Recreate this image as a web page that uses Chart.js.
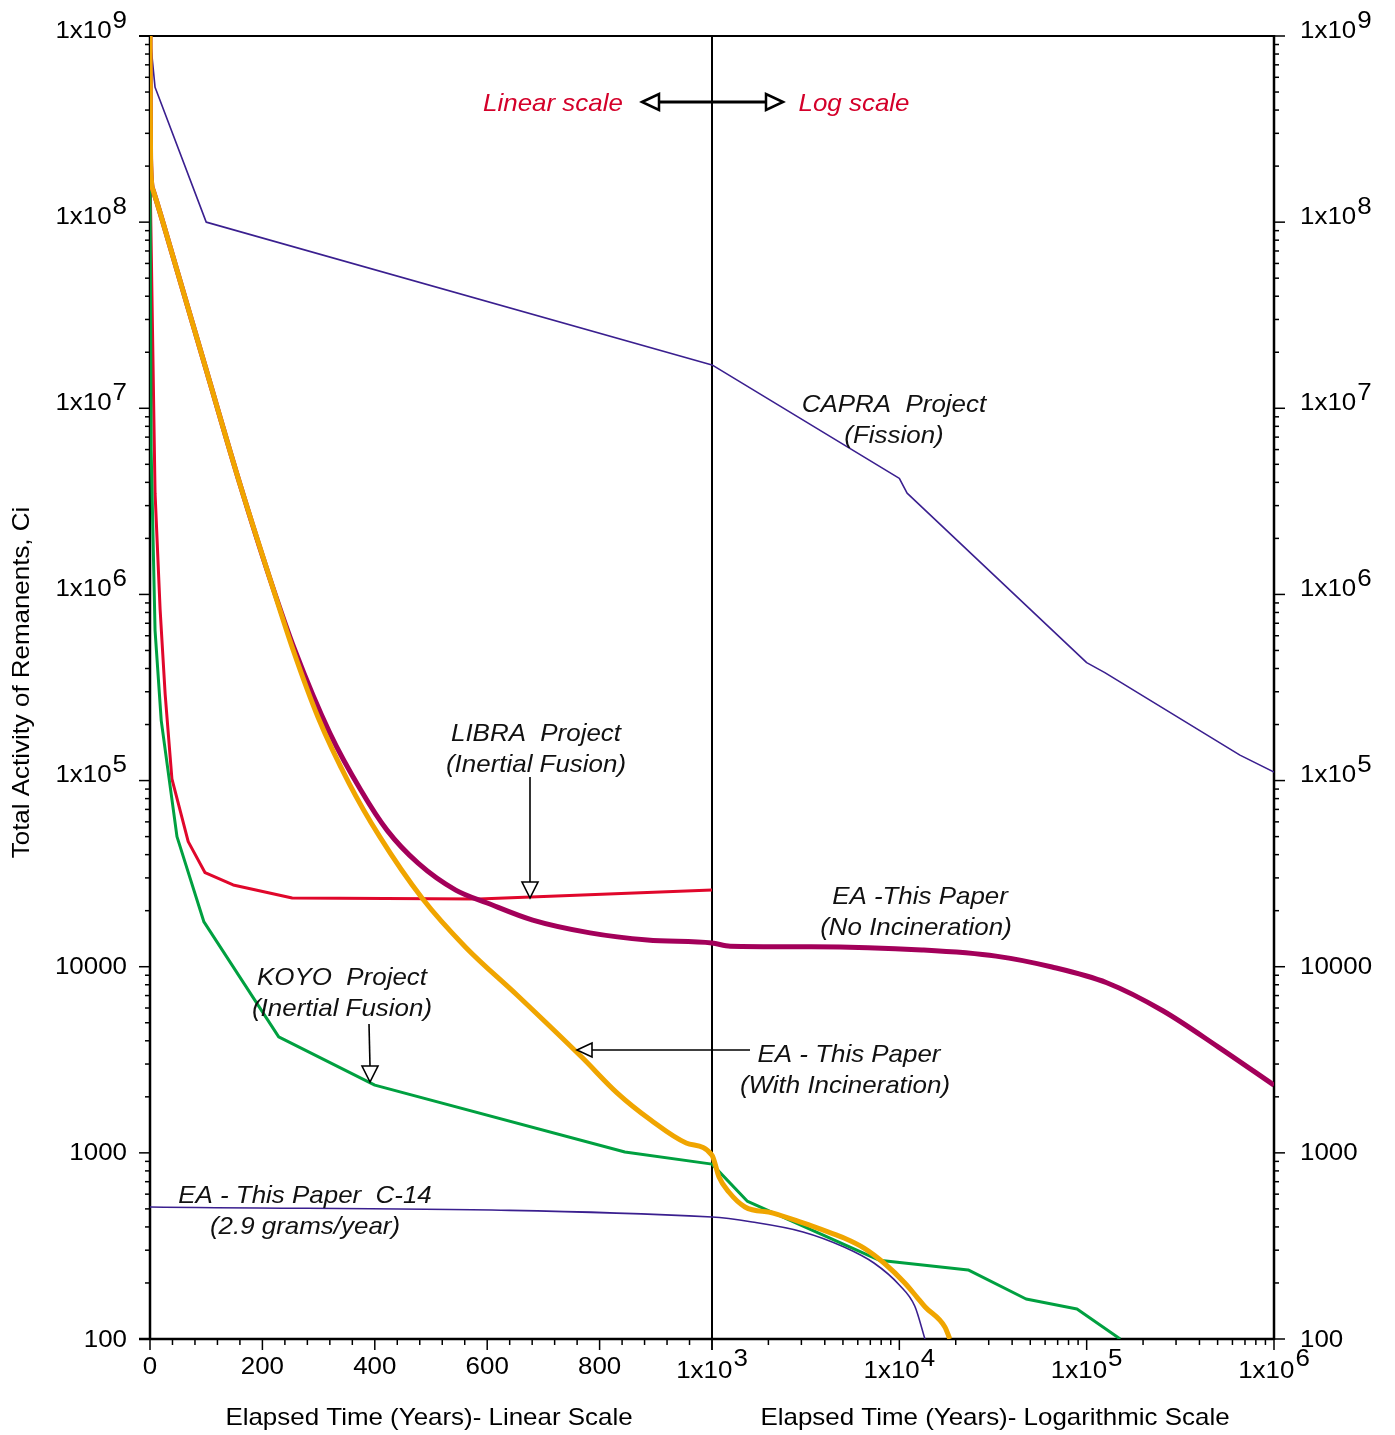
<!DOCTYPE html>
<html>
<head>
<meta charset="utf-8">
<title>Total Activity of Remanents</title>
<script src="https://cdn.jsdelivr.net/npm/chart.js@4.4.1/dist/chart.umd.min.js"></script>
<style>
  html, body { margin: 0; padding: 0; background: #ffffff; }
  canvas { display: block; }
</style>
</head>
<body>
<canvas id="chart" width="1395" height="1435"></canvas>
<script>
// ---- Series: elapsed time (years) and total activity (Ci) ----
const capraYears = [0, 9, 100, 1000, 10000, 11000, 100000, 125000, 658000, 1000000];
const capraCi    = [1.0e9, 5.3e8, 1.0e8, 1.71e7, 4.2e6, 3.5e6, 4.3e5, 3.8e5, 1.37e5, 1.11e5];

const libraYears = [0, 9, 18, 27, 39, 68, 98, 148, 253, 585, 1000];
const libraCi    = [1.9e8, 3.5e6, 8.3e5, 2.9e5, 1.02e5, 4.7e4, 3.2e4, 2.75e4, 2.34e4, 2.31e4, 2.58e4];

const koyoYears = [0, 2, 9, 20, 48, 96, 229, 400, 845, 1000, 1540, 7800, 23300, 47500, 88800, 151000];
const koyoCi    = [1.9e8, 6.0e6, 6.4e5, 2.1e5, 5.0e4, 1.74e4, 4.2e3, 2.31e3, 1.01e3, 870, 551, 265, 235, 164, 145, 100];

const eaNoIncYears = [0, 1, 5, 39, 100, 160, 214, 258, 320, 375, 422, 477, 544, 600, 681, 783, 885, 1000,
                      1250, 3380, 13200, 32800, 65300, 128000, 255000, 505000, 1000000];
const eaNoIncCi    = [1e9, 2.2e8, 1.5e8, 6.83e7, 1.61e7, 3.92e6, 1.2e6, 5.0e5, 1.8e5, 8.9e4, 5.4e4, 3.6e4, 2.58e4, 2.2e4, 1.78e4, 1.52e4, 1.39e4, 1.34e4,
                      1.29e4, 1.28e4, 1.23e4, 1.14e4, 9.96e3, 8.2e3, 5.8e3, 3.7e3, 2.31e3];

const eaIncYears = [0, 1, 5, 39, 100, 160, 214, 255, 299, 354, 409, 484, 562, 653, 769, 831, 891, 954, 1000,
                    1090, 1230, 1500, 2120, 3060, 4160, 5070, 6480, 8280, 10700, 12400, 13700, 17500, 18600];
const eaIncCi    = [1e9, 2.2e8, 1.5e8, 6.83e7, 1.61e7, 3.92e6, 1.2e6, 5.0e5, 2.19e5, 9.7e4, 4.98e4, 2.34e4, 1.27e4, 7.05e3, 3.25e3, 2.1e3, 1.5e3, 1.13e3, 972,
                    741, 616, 512, 475, 420, 376, 349, 308, 256, 200, 168, 149, 116, 100];

const c14Years = [0, 1000, 1640, 3060, 5070, 7320, 10000, 12100, 13700];
const c14Ci    = [512, 452, 425, 376, 312, 256, 195, 150, 100];

// ---- Axis ticks and labels ("^" marks a superscript exponent) ----
const yTickValues = [100, 1000, 10000, 1e5, 1e6, 1e7, 1e8, 1e9];
const yTickLabels = ['100', '1000', '10000', '1x10^5', '1x10^6', '1x10^7', '1x10^8', '1x10^9'];
const xTickValues = [0, 200, 400, 600, 800, 1000, 1e4, 1e5, 1e6];
const xTickLabels = ['0', '200', '400', '600', '800', '1x10^3', '1x10^4', '1x10^5', '1x10^6'];

const yTitle = 'Total Activity of Remanents, Ci';
const xTitleLinear = 'Elapsed Time (Years)- Linear Scale';
const xTitleLog = 'Elapsed Time (Years)- Logarithmic Scale';

// ---- Time axis: linear from 0 to 1000 years, logarithmic from 1000 to 1e6 ----
const SPLIT = 1000, T_MAX = 1e6;
function timeToFraction(t) {
  if (t <= SPLIT) return 0.5 * t / SPLIT;
  return 0.5 + 0.5 * Math.log10(t / SPLIT) / Math.log10(T_MAX / SPLIT);
}
function fractionToTime(f) {
  if (f <= 0.5) return 2 * f * SPLIT;
  return SPLIT * Math.pow(T_MAX / SPLIT, (f - 0.5) * 2);
}
const BaseLinear = Chart.LinearScale || Chart.registry.getScale('linear');
class SplitTimeScale extends BaseLinear {
  buildTicks() { return xTickValues.map(v => ({ value: v })); }
  getPixelForValue(v) {
    if (v === null || v === undefined || isNaN(v)) return NaN;
    return this.getPixelForDecimal(timeToFraction(v));
  }
  getValueForPixel(p) { return fractionToTime(this.getDecimalForPixel(p)); }
}
SplitTimeScale.id = 'splitTime';
SplitTimeScale.defaults = { ticks: { callback: v => String(v) } };
Chart.register(SplitTimeScale);

const pairs = (xs, ys) => xs.map((x, i) => ({ x: x, y: ys[i] }));

// ---- Text helpers ----
const FONT = '"Liberation Sans", Arial, Helvetica, sans-serif';
const SX = 1.08;
function textWidth(ctx, s) { return ctx.measureText(s).width * SX; }
function drawText(ctx, s, x, y, align) {
  const w = textWidth(ctx, s);
  const x0 = align === 'center' ? x - w / 2 : (align === 'right' ? x - w : x);
  ctx.save();
  ctx.translate(x0, y);
  ctx.scale(SX, 1);
  ctx.textAlign = 'left';
  ctx.fillText(s, 0, 0);
  ctx.restore();
}
// label with optional "^exp" part, drawn raised
function drawTickLabel(ctx, label, x, y, align, baseDy, supDy) {
  const parts = label.split('^');
  if (parts.length === 1) { drawText(ctx, label, x, y, align); return; }
  const wb = textWidth(ctx, parts[0]);
  const we = textWidth(ctx, parts[1]);
  const total = wb + 1 + we;
  const x0 = align === 'center' ? x - total / 2 : (align === 'right' ? x - total : x);
  drawText(ctx, parts[0], x0, y + baseDy, 'left');
  drawText(ctx, parts[1], x0 + wb + 1, y + supDy, 'left');
}
function line(ctx, x1, y1, x2, y2) {
  ctx.beginPath(); ctx.moveTo(x1, y1); ctx.lineTo(x2, y2); ctx.stroke();
}
function openHead(ctx, tipX, tipY, dir, len, half) {
  // dir: 'left' | 'right' | 'down'
  ctx.beginPath();
  if (dir === 'left') {
    ctx.moveTo(tipX, tipY); ctx.lineTo(tipX + len, tipY - half); ctx.lineTo(tipX + len, tipY + half);
  } else if (dir === 'right') {
    ctx.moveTo(tipX, tipY); ctx.lineTo(tipX - len, tipY - half); ctx.lineTo(tipX - len, tipY + half);
  } else {
    ctx.moveTo(tipX, tipY); ctx.lineTo(tipX - half, tipY - len); ctx.lineTo(tipX + half, tipY - len);
  }
  ctx.closePath();
  ctx.fillStyle = '#ffffff';
  ctx.fill();
  ctx.stroke();
}

// ---- Frame, tick marks and tick labels ----
const axesPlugin = {
  id: 'axesPlugin',
  beforeDatasetsDraw(chart) {
    const ctx = chart.ctx;
    const { left, right, top, bottom } = chart.chartArea;
    const xs = chart.scales.x, ys = chart.scales.y;
    ctx.save();
    ctx.strokeStyle = '#000000';
    ctx.lineCap = 'butt';

    // y tick marks, both sides
    ctx.lineWidth = 1.5;
    for (let e = 2; e <= 9; e++) {
      const yy = ys.getPixelForValue(Math.pow(10, e));
      line(ctx, left - 11, yy, left, yy);
      line(ctx, right, yy, right + 11, yy);
      if (e < 9) {
        for (let m = 2; m <= 9; m++) {
          const ym = ys.getPixelForValue(m * Math.pow(10, e));
          line(ctx, left - 5, ym, left, ym);
          line(ctx, right, ym, right + 5, ym);
        }
      }
    }
    // x tick marks
    for (let t = 0; t <= 1000; t += 40) {
      const xx = xs.getPixelForValue(t);
      const major = t % 200 === 0;
      line(ctx, xx, bottom, xx, bottom + (major ? 11 : 6));
    }
    for (let e = 3; e <= 6; e++) {
      const xx = xs.getPixelForValue(Math.pow(10, e));
      line(ctx, xx, bottom, xx, bottom + 11);
      if (e < 6) {
        for (let m = 2; m <= 9; m++) {
          const xm = xs.getPixelForValue(m * Math.pow(10, e));
          line(ctx, xm, bottom, xm, bottom + 6);
        }
      }
    }

    // frame and linear/log divider
    ctx.lineWidth = 2;
    line(ctx, left - 11, top, right, top);
    ctx.lineWidth = 2.5;
    line(ctx, left, top, left, bottom + 1);
    line(ctx, right, top - 1, right, bottom + 1);
    line(ctx, left - 11, bottom, right, bottom);
    ctx.lineWidth = 2;
    const xSplit = xs.getPixelForValue(SPLIT);
    line(ctx, xSplit, top, xSplit, bottom);

    // tick labels
    ctx.fillStyle = '#000000';
    ctx.textBaseline = 'middle';
    ctx.font = '24px ' + FONT;
    yTickValues.forEach((v, i) => {
      const yy = ys.getPixelForValue(v);
      const lab = yTickLabels[i];
      const pow = lab.indexOf('^') >= 0;
      drawTickLabel(ctx, lab, left - 23, pow ? yy : yy + 1, 'right', -5, -15);
      drawTickLabel(ctx, lab, right + 26, pow ? yy : yy + 1, 'left', -5, -15);
    });
    xTickValues.forEach((v, i) => {
      const xx = xs.getPixelForValue(v);
      const lab = xTickLabels[i];
      if (lab.indexOf('^') >= 0) drawTickLabel(ctx, lab, xx, bottom + 32, 'center', 0, -12);
      else drawText(ctx, lab, xx, bottom + 28, 'center');
    });

    // axis titles
    ctx.font = '24px ' + FONT;
    drawText(ctx, xTitleLinear, xs.getPixelForValue(500) - 2, bottom + 79, 'center');
    drawText(ctx, xTitleLog, xs.getPixelForValue(31623) + 2, bottom + 79, 'center');
    ctx.save();
    ctx.translate(22, (top + bottom) / 2 - 5);
    ctx.rotate(-Math.PI / 2);
    drawText(ctx, yTitle, 0, 0, 'center');
    ctx.restore();
    ctx.restore();
  }
};

// ---- Curve annotations and arrows ----
const notesPlugin = {
  id: 'notesPlugin',
  afterDatasetsDraw(chart) {
    const ctx = chart.ctx;
    ctx.save();
    ctx.textBaseline = 'middle';
    ctx.font = 'italic 24px ' + FONT;

    ctx.fillStyle = '#d4002a';
    drawText(ctx, 'Linear scale', 553, 104, 'center');
    drawText(ctx, 'Log scale', 854, 104, 'center');

    ctx.fillStyle = '#111111';
    drawText(ctx, 'CAPRA  Project', 894, 405, 'center');
    drawText(ctx, '(Fission)', 894, 436, 'center');
    drawText(ctx, 'LIBRA  Project', 536, 734, 'center');
    drawText(ctx, '(Inertial Fusion)', 536, 765, 'center');
    drawText(ctx, 'EA -This Paper', 920, 897, 'center');
    drawText(ctx, '(No Incineration)', 916, 928, 'center');
    drawText(ctx, 'KOYO  Project', 342, 978, 'center');
    drawText(ctx, '(Inertial Fusion)', 342, 1009, 'center');
    drawText(ctx, 'EA - This Paper', 849, 1055, 'center');
    drawText(ctx, '(With Incineration)', 845, 1086, 'center');
    drawText(ctx, 'EA - This Paper  C-14', 305, 1196, 'center');
    drawText(ctx, '(2.9 grams/year)', 305, 1227, 'center');

    // linear <-> log double arrow
    ctx.strokeStyle = '#000000';
    ctx.lineWidth = 3;
    line(ctx, 658, 102, 767, 102);
    ctx.lineWidth = 2.5;
    ctx.lineJoin = 'miter';
    openHead(ctx, 642, 102, 'left', 17, 8);
    openHead(ctx, 783, 102, 'right', 17, 8);

    // pointer arrows
    ctx.lineWidth = 1.6;
    line(ctx, 530, 777, 530, 882);
    openHead(ctx, 530, 898, 'down', 16, 8);
    line(ctx, 369, 1024, 370, 1066);
    openHead(ctx, 370, 1082, 'down', 16, 8);
    line(ctx, 750, 1050, 592, 1050);
    openHead(ctx, 577, 1050, 'left', 15, 7);
    ctx.restore();
  }
};

const lineDefaults = { pointRadius: 0, fill: false, borderJoinStyle: 'round', borderCapStyle: 'butt' };

new Chart(document.getElementById('chart').getContext('2d'), {
  type: 'line',
  data: {
    datasets: [
      Object.assign({ label: 'EA - With Incineration', data: pairs(eaIncYears, eaIncCi),
        borderColor: '#f0a500', borderWidth: 5, cubicInterpolationMode: 'monotone', order: 0 }, lineDefaults),
      Object.assign({ label: 'EA - No Incineration', data: pairs(eaNoIncYears, eaNoIncCi),
        borderColor: '#a3005a', borderWidth: 5, cubicInterpolationMode: 'monotone', order: 1 }, lineDefaults),
      Object.assign({ label: 'KOYO Project', data: pairs(koyoYears, koyoCi),
        borderColor: '#00a040', borderWidth: 3, tension: 0, order: 2 }, lineDefaults),
      Object.assign({ label: 'LIBRA Project', data: pairs(libraYears, libraCi),
        borderColor: '#e0072b', borderWidth: 3, tension: 0, order: 3 }, lineDefaults),
      Object.assign({ label: 'EA - C-14', data: pairs(c14Years, c14Ci),
        borderColor: '#3a1f8f', borderWidth: 1.6, cubicInterpolationMode: 'monotone', order: 4 }, lineDefaults),
      Object.assign({ label: 'CAPRA Project', data: pairs(capraYears, capraCi),
        borderColor: '#3a1f8f', borderWidth: 1.6, tension: 0, order: 5 }, lineDefaults)
    ]
  },
  options: {
    responsive: false,
    animation: false,
    events: [],
    layout: { padding: { left: 150, right: 121, top: 36, bottom: 96 } },
    plugins: { legend: { display: false }, tooltip: { enabled: false }, title: { display: false } },
    scales: {
      x: { type: 'splitTime', min: 0, max: T_MAX, display: false },
      y: { type: 'logarithmic', min: 100, max: 1e9, display: false }
    }
  },
  plugins: [axesPlugin, notesPlugin]
});
</script>
</body>
</html>
